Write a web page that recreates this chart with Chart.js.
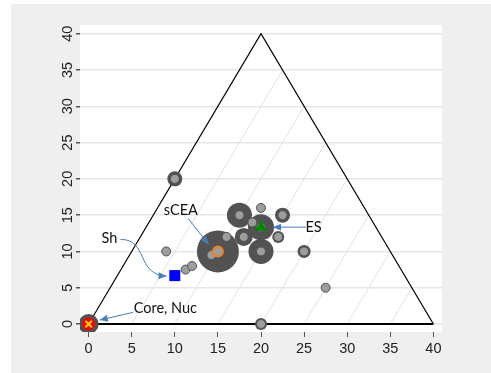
<!DOCTYPE html>
<html>
<head>
<meta charset="utf-8">
<script src="https://cdn.jsdelivr.net/npm/chart.js@4/dist/chart.umd.min.js"></script>
<style>
  html, body { margin: 0; padding: 0; background: #ffffff; }
  #wrap { position: absolute; left: 11px; top: 4px; width: 480px; height: 369px; }
</style>
</head>
<body>
<div id="wrap"><canvas id="c" width="480" height="369"></canvas></div>
<script>
// Axis ticks
const xTicks = [0, 5, 10, 15, 20, 25, 30, 35, 40];
const yTicks = [0, 5, 10, 15, 20, 25, 30, 35, 40];

// Triangle frame (corners)
const triX = [0, 20, 40];
const triY = [0, 40, 0];

// Weighted groups: centre and bubble radius
const bubbleX = [0, 10, 20, 15, 17.5, 22.5, 20, 18, 22, 20, 25];
const bubbleY = [0, 20, 0, 10, 15, 15, 13.33, 12, 12, 10, 10];
const bubbleR = [10, 7.5, 6, 21, 12.5, 7.5, 13, 9, 6, 12.5, 6.5];

// Individual observations
const obsX = [10, 20, 15, 14.25, 16, 9, 11.25, 12, 17.5, 20, 22.5, 19, 20, 18, 22, 20, 25, 27.5];
const obsY = [20, 0, 10, 9.5, 12, 10, 7.5, 8, 15, 16, 15, 14, 13.33, 12, 12, 10, 10, 5];

// Named methods
const methodNames = ['Core, Nuc', 'Sh', 'sCEA', 'ES'];
const methodX = [0, 10, 15, 20];
const methodY = [0, 6.67, 10, 13.33];

const DARK = '#525252';
const LIGHT = '#9d9d9d';
const ARROW = '#4a7ebb';

const pts = (xs, ys) => xs.map((x, i) => ({ x: x, y: ys[i] }));

// Ternary grid: lines parallel to the left side, from each base tick to the right side
const diagStarts = xTicks.filter(v => v > 0 && v < 40);
const diagSets = diagStarts.map(a => ({
  type: 'scatter',
  data: [{ x: a, y: 0 }, { x: 20 + a / 2, y: 40 - a }],
  showLine: true, borderColor: '#e2e2e2', borderWidth: 1,
  pointRadius: 0, order: 20
}));

const frameSides = {
  type: 'scatter',
  data: pts(triX, triY),
  showLine: true, borderColor: '#000000', borderWidth: 1.2,
  pointRadius: 0, order: 15
};
const frameBase = {
  type: 'scatter',
  data: [{ x: triX[0], y: triY[0] }, { x: triX[2], y: triY[2] }],
  showLine: true, borderColor: '#000000', borderWidth: 2,
  pointRadius: 0, order: 14
};

const bubbles = {
  type: 'bubble',
  data: bubbleX.map((x, i) => ({ x: x, y: bubbleY[i], r: bubbleR[i] })),
  backgroundColor: DARK, borderWidth: 0, order: 10
};

const obs = {
  type: 'scatter',
  data: pts(obsX, obsY),
  backgroundColor: LIGHT, borderColor: DARK, borderWidth: 1,
  pointRadius: 4.5, order: 8
};

const m = i => [{ x: methodX[i], y: methodY[i] }];
const coreFill = { type: 'scatter', data: m(0), pointStyle: 'circle', pointRadius: 6.5,
  backgroundColor: '#ff0000', borderWidth: 0, order: 4 };
const coreCross = { type: 'scatter', data: m(0), pointStyle: 'crossRot', pointRadius: 4.5,
  borderColor: '#ffd800', borderWidth: 2, order: 3 };
const shMark = { type: 'scatter', data: m(1), pointStyle: 'rect', pointRadius: 7.8,
  backgroundColor: '#0000ff', borderWidth: 0, order: 4 };
const sceaMark = { type: 'scatter', data: m(2), pointStyle: 'circle', pointRadius: 5,
  backgroundColor: LIGHT, borderColor: '#f07f1e', borderWidth: 2, order: 4 };
const esMark = { type: 'scatter', data: m(3), pointStyle: 'triangle', pointRadius: 7,
  backgroundColor: '#008a00', borderWidth: 0, order: 4 };

// Label text positions and arrow paths, in data units
const callouts = [
  { text: methodNames[0], at: [8.9, 2.1], path: [[5.15, 1.6], [1.3, 0.55]] },
  { text: methodNames[1], at: [2.4, 11.8], path: [[3.7, 11.65], [6.9, 11.75], [5.5, 6.75], [9.05, 6.6]] },
  { text: methodNames[2], at: [10.7, 15.7], path: [[11.5, 14.6], [13.9, 11.0]] },
  { text: methodNames[3], at: [26.1, 13.35], path: [[25.2, 13.35], [21.4, 13.35]] }
];

const backdrop = {
  id: 'backdrop',
  beforeDraw(chart) {
    const { ctx, chartArea: a } = chart;
    ctx.save();
    ctx.fillStyle = '#efefef';
    ctx.fillRect(0, 0, chart.width, chart.height);
    ctx.fillStyle = '#ffffff';
    ctx.fillRect(a.left, a.top, a.right - a.left, a.bottom - a.top);
    ctx.restore();
  }
};

const calloutPlugin = {
  id: 'callouts',
  afterDatasetsDraw(chart) {
    const { ctx, scales: { x, y } } = chart;
    const P = p => [x.getPixelForValue(p[0]), y.getPixelForValue(p[1])];
    ctx.save();
    callouts.forEach(c => {
      const q = c.path.map(P);
      ctx.strokeStyle = ARROW;
      ctx.fillStyle = ARROW;
      ctx.lineWidth = 1;
      ctx.beginPath();
      ctx.moveTo(q[0][0], q[0][1]);
      let from;
      if (q.length === 4) {
        ctx.bezierCurveTo(q[1][0], q[1][1], q[2][0], q[2][1], q[3][0], q[3][1]);
        from = q[2];
      } else {
        ctx.lineTo(q[1][0], q[1][1]);
        from = q[0];
      }
      const tip = q[q.length - 1];
      const ang = Math.atan2(tip[1] - from[1], tip[0] - from[0]);
      ctx.stroke();
      const L = 8, W = 3.5;
      ctx.beginPath();
      ctx.moveTo(tip[0], tip[1]);
      ctx.lineTo(tip[0] - L * Math.cos(ang) + W * Math.sin(ang), tip[1] - L * Math.sin(ang) - W * Math.cos(ang));
      ctx.lineTo(tip[0] - L * Math.cos(ang) - W * Math.sin(ang), tip[1] - L * Math.sin(ang) + W * Math.cos(ang));
      ctx.closePath();
      ctx.fill();
      const t = P(c.at);
      ctx.fillStyle = '#111111';
      ctx.font = '14.5px Lato';
      ctx.textAlign = 'center';
      ctx.textBaseline = 'middle';
      ctx.fillText(c.text, t[0], t[1]);
    });
    ctx.restore();
  }
};

new Chart(document.getElementById('c'), {
  type: 'scatter',
  data: {
    datasets: [...diagSets, frameSides, frameBase, bubbles, obs,
      coreFill, coreCross, shMark, sceaMark, esMark]
  },
  options: {
    responsive: false,
    devicePixelRatio: 1,
    animation: false,
    layout: { padding: { left: 0, top: 12, right: 49, bottom: 0 } },
    plugins: { legend: { display: false }, tooltip: { enabled: false } },
    scales: {
      x: {
        type: 'linear', min: -1, max: 41,
        afterBuildTicks: s => { s.ticks = xTicks.map(v => ({ value: v })); },
        afterFit: s => { s.height = 41; },
        grid: { drawOnChartArea: false, drawTicks: true, tickLength: 5, tickColor: '#555555' },
        border: { display: false },
        ticks: { maxRotation: 0, padding: 3, color: '#222222',
          font: { family: 'Liberation Sans', size: 14.5 } }
      },
      y: {
        type: 'linear', min: -1.1, max: 41.2,
        afterBuildTicks: s => { s.ticks = yTicks.map(v => ({ value: v })); },
        afterFit: s => { s.width = 69; },
        grid: { color: '#e6e6e6', lineWidth: 1.5, drawTicks: true, tickLength: 4, tickColor: '#555555' },
        border: { display: false },
        ticks: { minRotation: 90, maxRotation: 90, crossAlign: 'center', padding: 0, color: '#222222',
          font: { family: 'Liberation Sans', size: 14.5 } }
      }
    }
  },
  plugins: [backdrop, calloutPlugin]
});
</script>
</body>
</html>
